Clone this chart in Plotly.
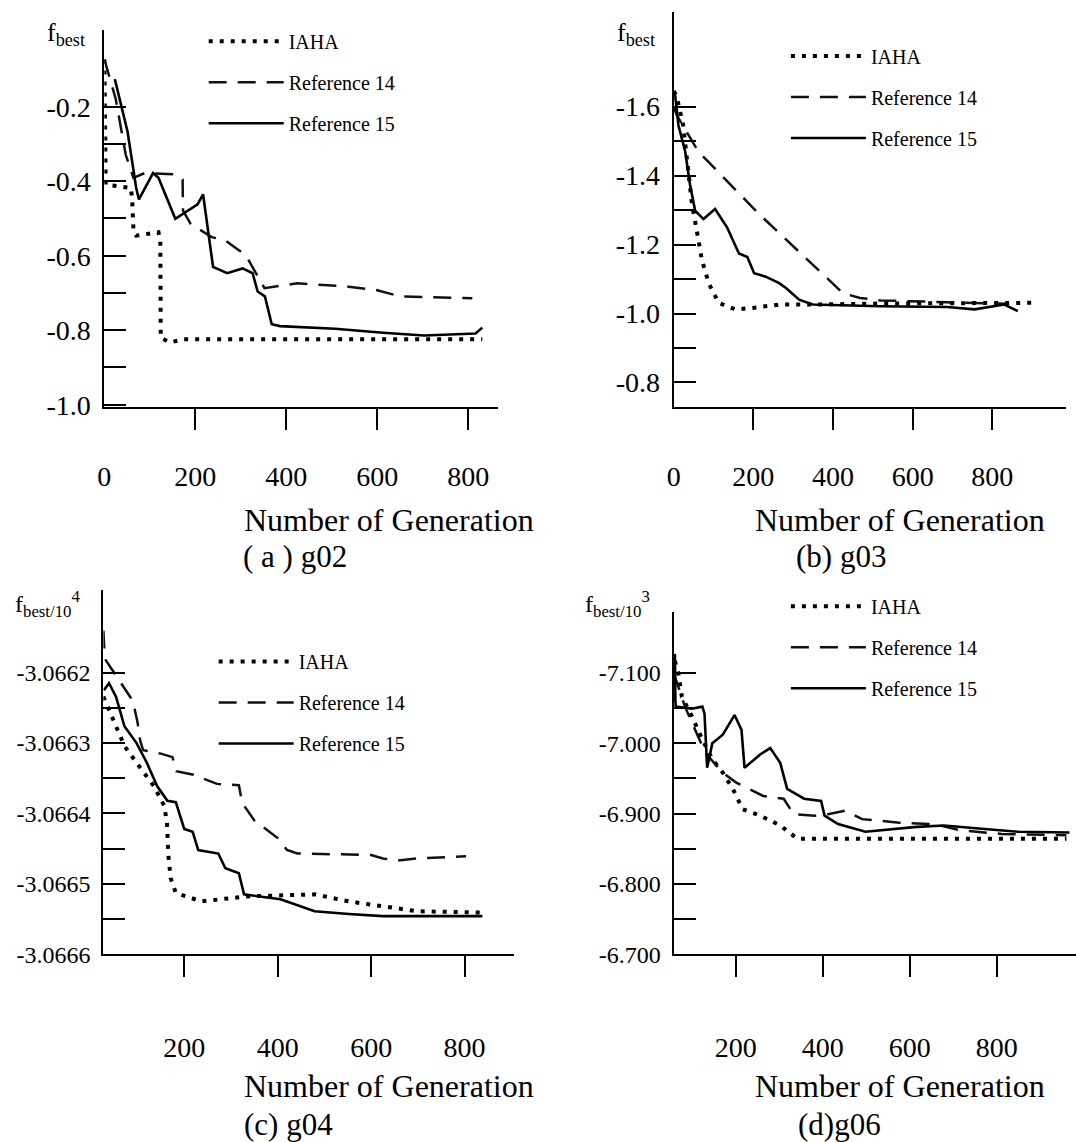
import plotly.graph_objects as go

W, H = 1076, 1142
FONT = "Liberation Serif, Times New Roman, serif"

# ---------------- (a) g02 ----------------
a_iaha_x = [0, 2, 3, 58, 61, 64, 70, 119, 123, 124, 144, 175, 831]
a_iaha_y = [-0.073, -0.267, -0.409, -0.418, -0.444, -0.532, -0.546, -0.537, -0.56, -0.82, -0.833, -0.824, -0.824]
a_ref14_x = [0, 25, 47, 64, 89, 160, 172, 173, 190, 236, 266, 311, 352, 424, 537, 598, 650, 809]
a_ref14_y = [-0.073, -0.179, -0.329, -0.391, -0.378, -0.382, -0.395, -0.479, -0.515, -0.550, -0.559, -0.599, -0.687, -0.674, -0.683, -0.692, -0.709, -0.714]
a_ref15_x = [23, 51, 70, 76, 107, 119, 156, 205, 217, 228, 239, 270, 304, 326, 337, 353, 368, 386, 507, 613, 703, 816, 831]
a_ref15_y = [-0.126, -0.267, -0.418, -0.449, -0.378, -0.391, -0.501, -0.462, -0.435, -0.532, -0.630, -0.647, -0.634, -0.647, -0.696, -0.709, -0.784, -0.789, -0.796, -0.807, -0.814, -0.809, -0.793]

# ---------------- (b) g03 ----------------
b_iaha_x = [0, 7, 24, 37, 46, 58, 71, 88, 113, 155, 197, 265, 349, 518, 898]
b_iaha_y = [-1.645, -1.632, -1.546, -1.413, -1.317, -1.241, -1.155, -1.088, -1.031, -1.012, -1.016, -1.026, -1.026, -1.029, -1.031]
b_ref14_x = [0, 8, 62, 214, 425, 468, 520, 600, 700, 800, 840]
b_ref14_y = [-1.60, -1.575, -1.47, -1.289, -1.059, -1.045, -1.038, -1.036, -1.033, -1.03, -1.028]
b_ref15_x = [3, 12, 29, 41, 54, 75, 104, 134, 164, 185, 202, 231, 265, 282, 315, 349, 518, 687, 755, 830, 864]
b_ref15_y = [-1.642, -1.546, -1.470, -1.375, -1.298, -1.274, -1.303, -1.250, -1.174, -1.164, -1.117, -1.107, -1.088, -1.074, -1.040, -1.026, -1.021, -1.019, -1.012, -1.026, -1.007]

# ---------------- (c) g04 ----------------
c_iaha_x = [27, 72, 98, 135, 157, 163, 166, 171, 182, 237, 332, 479, 552, 625, 699, 838]
c_iaha_y = [-3.066234, -3.066304, -3.066328, -3.066361, -3.066389, -3.066412, -3.066459, -3.066492, -3.066513,
            -3.066525, -3.066518, -3.066515, -3.066525, -3.066532, -3.066539, -3.066541]
c_ref14_x = [27, 30, 45, 70, 90, 100, 106, 112, 150, 175, 183, 220, 270, 317, 324, 350, 380, 400, 420, 442, 600, 625, 655, 699, 803]
c_ref14_y = [-3.06614, -3.06618, -3.066195, -3.06622, -3.06624, -3.06627, -3.066297, -3.06631, -3.066315, -3.06632,
             -3.06634, -3.066345, -3.066358, -3.06636, -3.066385, -3.06641, -3.066425, -3.066435, -3.066452, -3.066457,
             -3.066459, -3.066464, -3.066467, -3.066464, -3.066461]
c_ref15_x = [28, 39, 54, 72, 98, 120, 142, 164, 182, 200, 218, 230, 273, 288, 317, 328, 406, 435, 479, 552, 625, 838]
c_ref15_y = [-3.066225, -3.066215, -3.066234, -3.066276, -3.0663, -3.066328, -3.066361, -3.066382, -3.066384,
             -3.066422, -3.066426, -3.066452, -3.066457, -3.066478, -3.066485, -3.066515, -3.066522, -3.066529,
             -3.066539, -3.066543, -3.066546, -3.066546]

# ---------------- (d) g06 ----------------
d_iaha_x = [60, 68, 76, 99, 123, 146, 170, 193, 216, 256, 302, 342, 537, 960]
d_iaha_y = [-7.117, -7.099, -7.066, -7.038, -7.005, -6.977, -6.958, -6.935, -6.906, -6.897, -6.883, -6.864, -6.864, -6.864]
d_ref14_x = [57, 68, 83, 130, 170, 201, 263, 310, 333, 381, 412, 451, 490, 576, 655, 717, 811, 960]
d_ref14_y = [-7.10, -7.080, -7.052, -6.986, -6.958, -6.944, -6.925, -6.921, -6.899, -6.897, -6.899, -6.904, -6.892,
             -6.887, -6.885, -6.876, -6.871, -6.869]
d_ref15_x = [58, 60, 61, 62, 99, 123, 128, 134, 146, 170, 197, 213, 220, 256, 279, 302, 318, 357, 396, 404, 435, 498,
             616, 678, 772, 850, 967]
d_ref15_y = [-7.06, -7.127, -7.061, -7.052, -7.049, -7.052, -7.042, -6.965, -7.0, -7.012, -7.040, -7.019, -6.965,
             -6.984, -6.993, -6.972, -6.935, -6.921, -6.918, -6.897, -6.885, -6.874, -6.881, -6.883, -6.878, -6.874, -6.873]

series_names = ["IAHA", "Reference 14", "Reference 15"]

# y tick values / labels per panel (major = labelled, minor = unlabelled marks)
a_ytick_vals = [-0.2, -0.4, -0.6, -0.8, -1.0]
a_ytick_text = ["-0.2", "-0.4", "-0.6", "-0.8", "-1.0"]
a_yminor = [-0.3, -0.5, -0.7, -0.9]
b_ytick_vals = [-1.6, -1.4, -1.2, -1.0, -0.8]
b_ytick_text = ["-1.6", "-1.4", "-1.2", "-1.0", "-0.8"]
b_yminor = [-1.5, -1.3, -1.1, -0.9]
c_ytick_vals = [-3.0662, -3.0663, -3.0664, -3.0665, -3.0666]
c_ytick_text = ["-3.0662", "-3.0663", "-3.0664", "-3.0665", "-3.0666"]
c_yminor = [-3.06625, -3.06635, -3.06645, -3.06655]
d_ytick_vals = [-7.1, -7.0, -6.9, -6.8, -6.7]
d_ytick_text = ["-7.100", "-7.000", "-6.900", "-6.800", "-6.700"]
d_yminor = [-7.05, -6.95, -6.85, -6.75]
x_tick_marks = [200, 400, 600, 800]
x_tick_labels_ab = [0, 200, 400, 600, 800]

captions = ["( a ) g02", "(b) g03", "(c) g04", "(d)g06"]
y_titles = ["f<sub>best</sub>", "f<sub>best</sub>", "f<sub>best/10</sub><sup>4</sup>", "f<sub>best/10</sub><sup>3</sup>"]
x_title = "Number of Generation"

styles = [
    dict(color="black", width=4, dash="4px,7px"),
    dict(color="#111111", width=2.5, dash="18px,11px"),
    dict(color="black", width=2.6),
]

panels = [
    [(a_iaha_x, a_iaha_y), (a_ref14_x, a_ref14_y), (a_ref15_x, a_ref15_y)],
    [(b_iaha_x, b_iaha_y), (b_ref14_x, b_ref14_y), (b_ref15_x, b_ref15_y)],
    [(c_iaha_x, c_iaha_y), (c_ref14_x, c_ref14_y), (c_ref15_x, c_ref15_y)],
    [(d_iaha_x, d_iaha_y), (d_ref14_x, d_ref14_y), (d_ref15_x, d_ref15_y)],
]
# panels (a),(b): IAHA curve is drawn on the label-carrying twin x axis (same range)
twin_x = {0: "x5", 1: "x6"}

fig = go.Figure()
legend_ids = ["legend", "legend2", "legend3", "legend4"]
for i, data in enumerate(panels):
    sfx = "" if i == 0 else str(i + 1)
    for j, (xs, ys) in enumerate(data):
        xa = twin_x[i] if (i in twin_x and j == 0) else "x" + sfx
        fig.add_trace(go.Scatter(
            x=xs, y=ys, mode="lines", name=series_names[j], line=styles[j],
            xaxis=xa, yaxis="y" + sfx, legend=legend_ids[i],
            legendgroup=f"p{i}s{j}", hoverinfo="skip"))


def dx(l, r):
    return [l / W, r / W]


def dy(t, b):
    return [1 - b / H, 1 - t / H]


def tf(size):
    return dict(family=FONT, size=size, color="black")


xbase = dict(showline=True, linecolor="black", linewidth=2, showgrid=False, zeroline=False,
             ticks="outside", ticklen=21, tickwidth=2, tickcolor="black", tickmode="array",
             tickvals=x_tick_marks, tickfont=tf(28))
ybase = dict(showline=True, linecolor="black", linewidth=2, showgrid=False, zeroline=False,
             ticks="inside", ticklen=22, tickwidth=2, tickcolor="black", tickmode="array",
             ticklabelstandoff=6)

x_doms = [dx(98, 494), dx(671, 1066), dx(97, 510), dx(671, 1076)]
x_ranges = [[0, 865], [0, 985], [27, 905], [57, 982]]
y_doms = [dy(30, 412), dy(12, 412), dy(597, 966), dy(620, 966)]
y_ranges = [[-1.006, 0.007], [-0.729, -1.875], [-3.0666, -3.066082], [-6.7, -7.186]]
y_vals = [a_ytick_vals, b_ytick_vals, c_ytick_vals, d_ytick_vals]
y_text = [a_ytick_text, b_ytick_text, c_ytick_text, d_ytick_text]
y_minor = [a_yminor, b_yminor, c_yminor, d_yminor]
y_font = [28, 28, 24, 24]

lay = {}
for i in range(4):
    sfx = "" if i == 0 else str(i + 1)
    xa = dict(xbase, domain=x_doms[i], range=x_ranges[i], anchor="y" + sfx)
    if i < 2:
        xa["showticklabels"] = False
    else:
        xa["ticklabelstandoff"] = 46
    lay["xaxis" + sfx] = xa
    lay["yaxis" + sfx] = dict(ybase, domain=y_doms[i], range=y_ranges[i], anchor="x" + sfx,
                              tickvals=y_vals[i], ticktext=y_text[i], tickfont=tf(y_font[i]),
                              minor=dict(tickmode="array", tickvals=y_minor[i], ticks="inside",
                                         ticklen=22, tickwidth=2, tickcolor="black", showgrid=False))

# label-carrying twin axes for panels (a) and (b) (labels include 0, marks do not)
for i, k in [(0, "5"), (1, "6")]:
    sfx = "" if i == 0 else str(i + 1)
    lay["xaxis" + k] = dict(overlaying="x" + sfx, anchor="y" + sfx, side="bottom", range=x_ranges[i],
                            showline=False, showgrid=False, zeroline=False, ticks="",
                            tickmode="array", tickvals=x_tick_labels_ab,
                            ticktext=[str(v) for v in x_tick_labels_ab],
                            tickfont=tf(28), ticklabelstandoff=50)

leg_pos = [(198, 22), (784, 37), (208, 650), (784, 594)]
for i, lid in enumerate(legend_ids):
    lay[lid] = dict(x=leg_pos[i][0] / W, y=1 - leg_pos[i][1] / H, xanchor="left", yanchor="top",
                    font=tf(20), bgcolor="rgba(0,0,0,0)", itemwidth=75, tracegroupgap=12,
                    traceorder="grouped")

ann = []
ytitle_pos = [(38, 34), (612, 34), (6, 611), (580, 611)]
ytitle_size = [26, 26, 24, 24]
title_pos = [(385, 526), (899, 526), (385, 1099), (899, 1099)]
cap_pos = [(290, 563), (839, 563), (283, 1138), (838, 1138)]
for i in range(4):
    ann.append(dict(text=y_titles[i], x=ytitle_pos[i][0] / W, y=1 - ytitle_pos[i][1] / H,
                    xref="paper", yref="paper", xanchor="left", yanchor="middle",
                    showarrow=False, font=tf(ytitle_size[i])))
    ann.append(dict(text=x_title, x=title_pos[i][0] / W, y=1 - title_pos[i][1] / H,
                    xref="paper", yref="paper", xanchor="center", yanchor="middle",
                    showarrow=False, font=tf(32)))
    ann.append(dict(text=captions[i], x=cap_pos[i][0] / W, y=1 - cap_pos[i][1] / H,
                    xref="paper", yref="paper", xanchor="center", yanchor="middle",
                    showarrow=False, font=tf(31)))

fig.update_layout(width=W, height=H, margin=dict(l=0, r=0, t=0, b=0),
                  paper_bgcolor="white", plot_bgcolor="white", font=tf(20),
                  showlegend=True, annotations=ann, **lay)

fig.write_html("out.html", config={"displayModeBar": False},
               post_script="document.body.style.margin='0';")
